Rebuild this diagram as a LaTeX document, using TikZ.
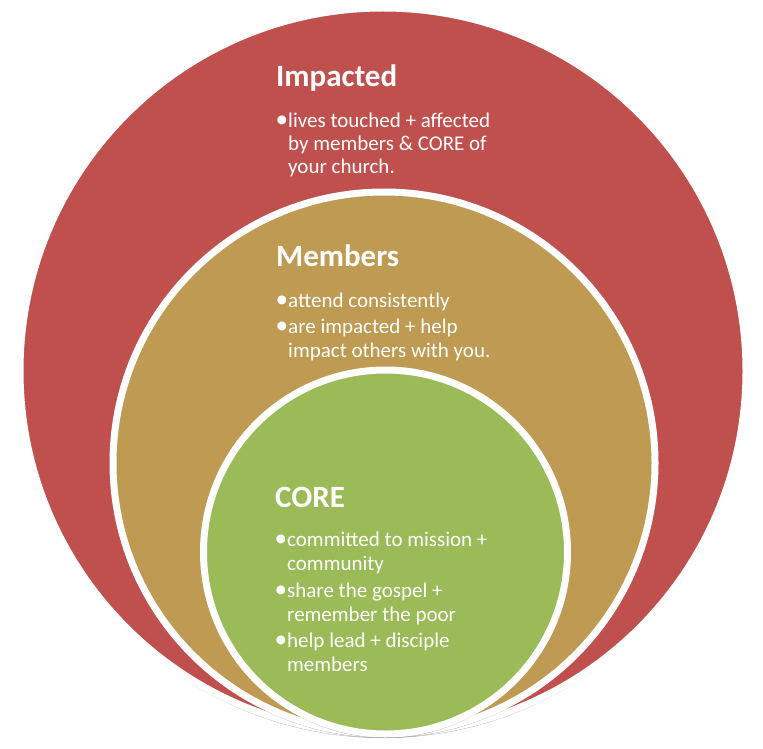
\documentclass[tikz,border=0pt]{standalone}
\usepackage{fontspec}
\setmainfont{Carlito}
\usetikzlibrary{shadows}
\definecolor{impred}{HTML}{C0504D}
\definecolor{memgold}{HTML}{BE9A52}
\definecolor{coregreen}{HTML}{9BBB59}
\newcommand\bul{\makebox[12pt][l]{\hspace{-0.5pt}\scalebox{1.2}{\textbullet}}}
\newcommand\ind{\hspace*{12pt}}
\tikzset{
  ring/.style={circle, draw=white, line width=7pt, inner sep=0pt, outer sep=0pt,
    drop shadow={shadow xshift=0pt, shadow yshift=-4pt, opacity=0.4, fill=black!70}},
  ttl/.style={anchor=base west, inner sep=0pt, text=white, font=\fontsize{31}{31}\selectfont\bfseries},
  itm/.style={anchor=base west, inner sep=0pt, text=white, align=left, font=\fontsize{21}{23.3}\selectfont}
}
\begin{document}
\begin{tikzpicture}[x=1pt,y=-1pt]
\useasboundingbox (0,0) rectangle (763,749);
\node[ring, fill=impred, minimum size=726pt] (outer) at (383,371) {};
\node[ring, fill=memgold, minimum size=542pt] (middle) at (384,463) {};
\node[ring, fill=coregreen, minimum size=364pt] (inner) at (385.5,552) {};

% multi-line nodes: base anchor sits on the last line's baseline
\node[ttl] (t1) at (276,87) {Impacted};
\node[itm] (i1) at (276,174) {\bul lives touched + affected\\\ind by members \& CORE of\\\ind your church.};

\node[ttl] (t2) at (276,266) {Members};
\node[itm] (m1) at (276,307) {\bul attend consistently};
\node[itm] (m2) at (276,357) {\bul are impacted + help\\\ind impact others with you.};

\node[ttl] (t3) at (275,507) {CORE};
\node[itm] (c1) at (275,570) {\bul committed to mission +\\\ind community};
\node[itm] (c2) at (275,621) {\bul share the gospel +\\\ind remember the poor};
\node[itm] (c3) at (275,671) {\bul help lead + disciple\\\ind members};
\end{tikzpicture}
\end{document}
